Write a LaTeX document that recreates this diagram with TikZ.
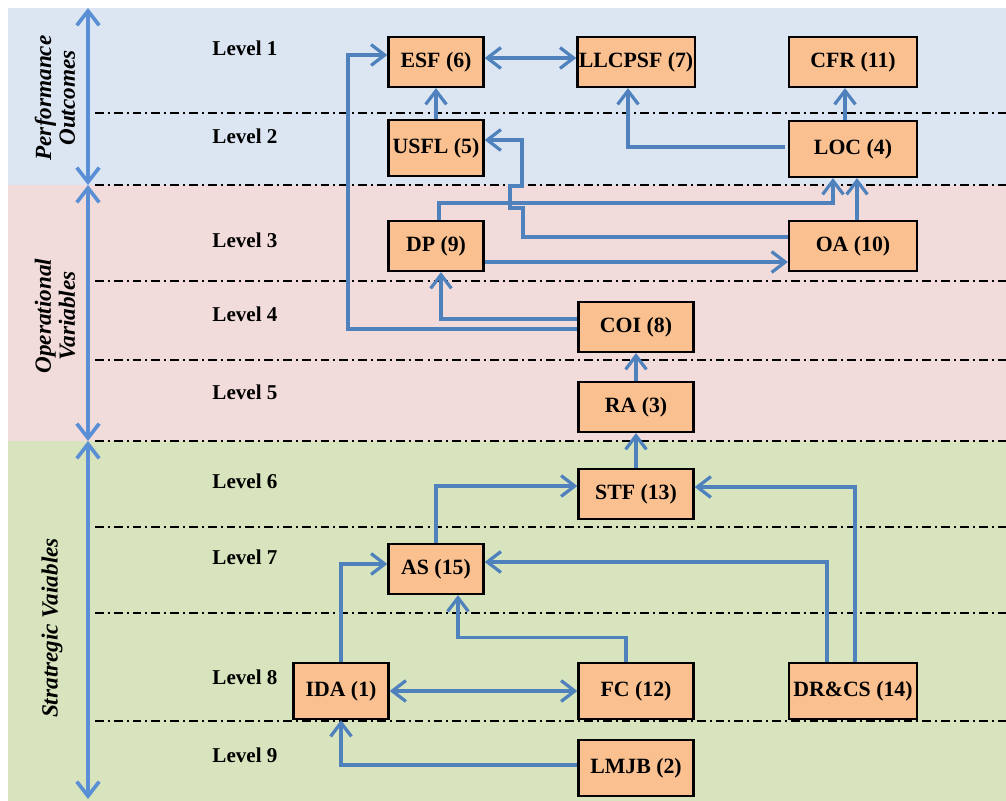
\documentclass[tikz,border=0pt]{standalone}
\usepackage{fontspec}
\setmainfont{Liberation Serif}
\usepackage{xcolor}
\usetikzlibrary{arrows.meta,calc}

\definecolor{perfblue}{HTML}{DCE6F2}
\definecolor{operpink}{HTML}{F2DCDB}
\definecolor{stratgreen}{HTML}{D7E4BD}
\definecolor{boxorange}{HTML}{FAC090}
\definecolor{linkblue}{HTML}{4F81BD}
\definecolor{sideblue}{HTML}{5B8FD5}

\begin{document}
\begin{tikzpicture}[x=0.025cm,y=-0.025cm,
  var/.style={draw=black,fill=boxorange,line width=1.6pt,inner sep=1pt,
    minimum width=2.375cm,minimum height=1.25cm,font=\fontsize{15.5}{18}\selectfont\bfseries},
  midvar/.style={var,minimum width=2.875cm},
  widevar/.style={var,minimum width=3.2cm},
  tall/.style={minimum height=1.4cm},
  link/.style={draw=linkblue,line width=2.3pt,-{Straight Barb[length=3.4mm,width=5.2mm]}},
  duallink/.style={link,{Straight Barb[length=3.4mm,width=5.2mm]}-{Straight Barb[length=3.4mm,width=5.2mm]}},
  band/.style={{Straight Barb[length=3.6mm,width=5.6mm]}-{Straight Barb[length=3.6mm,width=5.6mm]},draw=sideblue,line width=2.6pt},
  sep/.style={draw=black,line width=1.3pt,dash pattern=on 0.22cm off 0.1cm on 0.05cm off 0.1cm},
  lvl/.style={font=\fontsize{15}{17}\selectfont\bfseries},
  grp/.style={rotate=90,align=center,font=\fontsize{16.5}{17}\selectfont\bfseries\itshape}]
\useasboundingbox (0,0) rectangle (1006,801);

% bands
\fill[perfblue] (8,8) rectangle (1006,185);
\fill[operpink] (8,185) rectangle (1006,441);
\fill[stratgreen] (8,441) rectangle (1006,801);

% level separators
\foreach \y in {113,185,281,360,441,527,613,721}
  \draw[sep] (95,\y) -- (1006,\y);

% group arrows and names
\coordinate (g0) at (88,8);
\coordinate (g1) at (88,185);
\coordinate (g2) at (88,441);
\coordinate (g3) at (88,799);
\draw[band] (g0) -- (g1);
\draw[band] (g1) -- (g2);
\draw[band] (g2) -- (g3);
\node[grp] (perf) at (55,98) {Performance\\Outcomes};
\node[grp] (oper) at (55,316) {Operational\\Variables};
\node[grp] (strat) at (52,628) {Stratregic Vaiables};

% levels
\foreach \n/\y in {1/48,2/136,3/240,4/314,5/392,6/481,7/557,8/677,9/755}
  \node[lvl] (lev\n) at (245,\y) {Level \n};

% variables
\node[var] (esf) at (436,62) {ESF (6)};
\node[midvar] (llcpsf) at (636,62) {LLCPSF (7)};
\node[widevar] (cfr) at (853,62) {CFR (11)};
\node[var,tall] (usfl) at (436,148) {USFL (5)};
\node[widevar,tall] (loc) at (853,149) {LOC (4)};
\node[var] (dp) at (436,246) {DP (9)};
\node[widevar] (oa) at (853,246) {OA (10)};
\node[midvar] (coi) at (636,327) {COI (8)};
\node[midvar] (ra) at (636,407) {RA (3)};
\node[midvar] (stf) at (636,494) {STF (13)};
\node[var] (as) at (436,569) {AS (15)};
\node[var,tall] (ida) at (341,691) {IDA (1)};
\node[midvar,tall] (fc) at (636,691) {FC (12)};
\node[widevar,tall] (drcs) at (853,691) {DR\&CS (14)};
\node[midvar,tall] (lmjb) at (636,768) {LMJB (2)};

% links
\draw[link] ($(coi.west)+(0,2)$) -| (348,55) -- ($(esf.west)+(0,-7)$);
\draw[duallink] ($(esf.east)+(0,-4)$) -- ($(llcpsf.west)+(0,-4)$);
\draw[link] (usfl.north) -- (esf.south);
\draw[link] ($(loc.west)+(-3,-2)$) -| ($(llcpsf.south)+(-8,0)$);
\draw[link] ($(loc.north)+(-8,0)$) -- ($(cfr.south)+(-8,0)$);
\draw[link] ($(oa.west)+(0,-9)$) -- (523,237) -- (523,208) -- (510,208)
  -- (510,186) -- (522,186) -- (522,140) -- ($(usfl.east)+(0,-8)$);
\draw[link] ($(dp.north)+(3,0)$) |- (833,203) -- ($(loc.south)+(-20,0)$);
\draw[link] ($(oa.north)+(4,0)$) -- ($(loc.south)+(4,0)$);
\draw[link] ($(dp.east)+(0,16)$) -- ($(oa.west)+(0,16)$);
\draw[link] ($(coi.west)+(0,-8)$) -| ($(dp.south)+(5,0)$);
\draw[link] (ra.north) -- (coi.south);
\draw[link] (stf.north) -- (ra.south);
\draw[link] (as.north) |- ($(stf.west)+(0,-8)$);
\draw[link] ($(drcs.north)+(2,0)$) |- ($(stf.east)+(0,-7)$);
\draw[link] ($(drcs.north)+(-26,0)$) |- ($(as.east)+(0,-7)$);
\draw[link] ($(fc.north)+(-10,0)$) -- ++(0,-24) -| ($(as.south)+(22,0)$);
\draw[link] (ida.north) |- ($(as.west)+(0,-5)$);
\draw[duallink] (ida.east) -- (fc.west);
\draw[link] ($(lmjb.west)+(0,-3)$) -| (ida.south);

\end{tikzpicture}
\end{document}
